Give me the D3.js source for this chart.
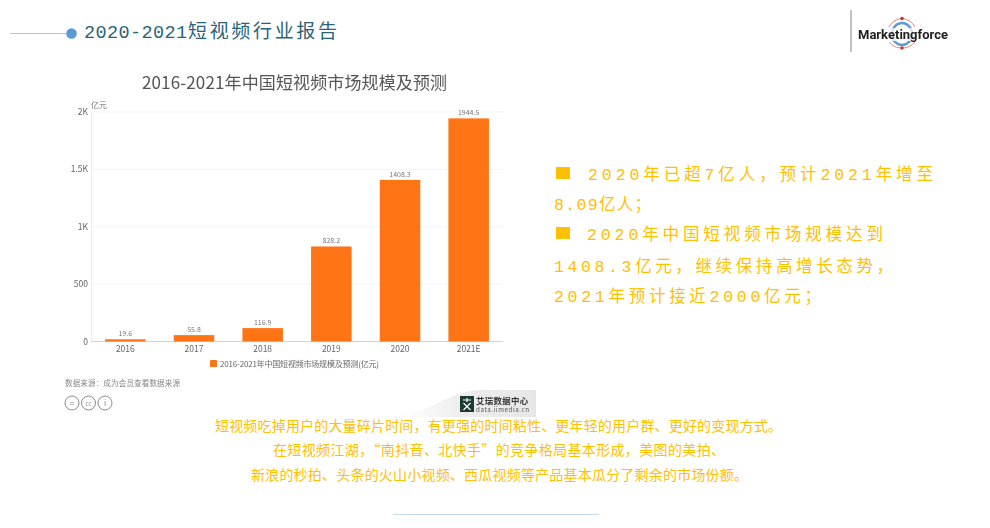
<!DOCTYPE html>
<html><head><meta charset="utf-8">
<script src="https://cdn.jsdelivr.net/npm/d3@7/dist/d3.min.js"></script>
<style>html,body{margin:0;padding:0;background:#fff}svg{display:block}
text{font-family:"Noto Sans CJK SC","Noto Sans",sans-serif}
.mono{font-family:"Liberation Mono","Noto Sans CJK SC",monospace}</style>
</head><body><svg id="c" width="990" height="528"></svg>
<script>
const categories = ["2016","2017","2018","2019","2020","2021E"];
const values = [19.6,55.8,116.9,828.2,1408.3,1944.5];
const yTicks = [0,500,1000,1500,2000];
const yLabels = ["0","500","1K","1.5K","2K"];
const titleYears = "2020-2021";
const titleWords = "短视频行业报告";
const chartTitle = "2016-2021年中国短视频市场规模及预测";
const legendLabel = "2016-2021年中国短视频市场规模及预测(亿元)";
const sideLines = [
  {t:"2020年已超7亿人，预计2021年增至",y:180,x:588,w:345,mark:true},
  {t:"8.09亿人；",y:210,x:554,w:97},
  {t:"2020年中国短视频市场规模达到",y:240,x:587,w:296,mark:true},
  {t:"1408.3亿元，继续保持高增长态势，",y:272,x:554,w:339},
  {t:"2021年预计接近2000亿元；",y:302,x:554,w:267}
];
const bottomLines = [
  {t:"短视频吃掉用户的大量碎片时间，有更强的时间粘性、更年轻的用户群、更好的变现方式。",y:431,x:215,w:567},
  {t:"在短视频江湖，“南抖音、北快手”的竞争格局基本形成，美图的美拍、",y:455,x:273,w:452},
  {t:"新浪的秒拍、头条的火山小视频、西瓜视频等产品基本瓜分了剩余的市场份额。",y:480,x:251,w:497}
];
const svg = d3.select("#c");
const x = d3.scaleBand().domain(categories).range([91,503]).paddingInner(0.41).paddingOuter(0.205);
const y = d3.scaleLinear().domain([0,2000]).range([341.5,112]);

const defs = svg.append("defs");
defs.html('<filter id="soft" x="-5%" y="-5%" width="110%" height="110%"><feGaussianBlur stdDeviation="0.35"/></filter>'+
 '<linearGradient id="wm" x1="0" x2="1" y1="0" y2="0"><stop offset="0" stop-color="#f4f4f4" stop-opacity="0"/><stop offset="0.45" stop-color="#eeeeee"/><stop offset="1" stop-color="#e6e6e6"/></linearGradient>');

// header
svg.append("line").attr("x1",10).attr("x2",68).attr("y1",33.5).attr("y2",33.5).attr("stroke","#a9c8ea").attr("stroke-width",1.2);
svg.append("circle").attr("cx",71.5).attr("cy",33.5).attr("r",5.3).attr("fill","#5b9bd5");
const head = svg.append("g").attr("fill","#2a6478");
head.append("text").attr("class","mono").attr("x",84).attr("y",38).attr("font-size",18.5).attr("textLength",103).text(titleYears);
head.append("text").attr("x",188).attr("y",38).attr("font-size",19).attr("textLength",149).text(titleWords);

// logo
const logo = svg.append("g").attr("filter","url(#soft)");
logo.append("line").attr("x1",851).attr("x2",851).attr("y1",10).attr("y2",52).attr("stroke","#a8a8a8").attr("stroke-width",1.4);
logo.append("ellipse").attr("cx",902).attr("cy",34).attr("rx",10).attr("ry",11).attr("fill","none").attr("stroke","#5b9bd5").attr("stroke-width",2.5);
logo.append("path").attr("d","M889 27A17 17 0 0 1 901 18.5M903 18.5A17 17 0 0 1 915 27M889 42A17 17 0 0 0 901 48M903 48A17 17 0 0 0 915 42").attr("fill","none").attr("stroke","#d9695c").attr("stroke-width",0.8);
logo.append("circle").attr("cx",902).attr("cy",18.5).attr("r",1.8).attr("fill","#c9372c");
logo.append("circle").attr("cx",902).attr("cy",48).attr("r",1.8).attr("fill","#c9372c");
logo.append("rect").attr("x",858).attr("y",28).attr("width",90).attr("height",13).attr("fill","#fff").attr("opacity",0.75);
logo.append("text").attr("x",858).attr("y",39).attr("font-size",13).attr("font-weight",700).attr("fill","#222").style("font-family","Roboto").attr("textLength",90).text("Marketingforce");

// chart
const chart = svg.append("g").attr("filter","url(#soft)");
chart.append("text").attr("x",142).attr("y",89).attr("font-size",17).attr("textLength",305).attr("fill","#555").text(chartTitle);

chart.append("g").selectAll("line").data(yTicks.slice(1)).join("line")
  .attr("x1",91).attr("x2",503).attr("y1",d=>y(d)).attr("y2",d=>y(d)).attr("stroke","#f5f5f5");
chart.append("line").attr("x1",91.5).attr("x2",91.5).attr("y1",112).attr("y2",341.5).attr("stroke","#ececec");
chart.append("line").attr("x1",91).attr("x2",503).attr("y1",341.5).attr("y2",341.5).attr("stroke","#cfd3da");

chart.append("g").selectAll("text").data(yTicks).join("text")
  .attr("x",88).attr("y",d=>y(d)+3).attr("text-anchor","end").attr("font-size",8.5).attr("fill","#666")
  .text((d,i)=>yLabels[i]);
chart.append("text").attr("x",91).attr("y",108).attr("font-size",8).attr("fill","#777").text("亿元");

chart.append("g").selectAll("rect").data(values).join("rect")
  .attr("x",(d,i)=>x(categories[i])).attr("width",x.bandwidth())
  .attr("y",d=>y(d)).attr("height",d=>y(0)-y(d)).attr("fill","#ff7519");
chart.append("g").selectAll("text").data(values).join("text")
  .attr("x",(d,i)=>x(categories[i])+x.bandwidth()/2).attr("y",d=>y(d)-3)
  .attr("text-anchor","middle").attr("font-size",7).attr("fill","#777").text(d=>d);
chart.append("g").selectAll("text").data(categories).join("text")
  .attr("x",d=>x(d)+x.bandwidth()/2).attr("y",352).attr("text-anchor","middle")
  .attr("font-size",8.5).attr("fill","#666").text(d=>d);

chart.append("rect").attr("x",210).attr("y",360).attr("width",7).attr("height",7).attr("rx",1).attr("fill","#ff7519");
chart.append("text").attr("x",220).attr("y",367).attr("font-size",8).attr("textLength",159).attr("fill","#666").text(legendLabel);
chart.append("text").attr("x",65).attr("y",386).attr("font-size",7.6).attr("textLength",115).attr("fill","#888").text("数据来源：成为会员查看数据来源");

// licence icons
[72,88.5,105].forEach((cx,i)=>{
  chart.append("circle").attr("cx",cx).attr("cy",403).attr("r",7).attr("fill","#fff").attr("stroke","#8a8a8a").attr("stroke-width",1);
  chart.append("text").attr("x",cx).attr("y",405.5).attr("text-anchor","middle").attr("font-size",i===1?6:8).attr("fill","#888").text(["=","cc","i"][i]);
});

// watermark
chart.append("path").attr("d","M392 417C430 414 445 392 480 390L536 390L536 417Z").attr("fill","url(#wm)");
chart.append("rect").attr("x",460).attr("y",396).attr("width",14).attr("height",16).attr("fill","#1d3a36");
chart.append("path").attr("d","M463 400L471 400M467 398L467 402M463.5 403L470.5 410M470.5 403L463.5 410").attr("stroke","#fff").attr("stroke-width",1.2).attr("fill","none");
chart.append("text").attr("x",476).attr("y",403.5).attr("font-size",8.4).attr("font-weight",700).attr("fill","#333").attr("textLength",52).text("艾瑞数据中心");
chart.append("text").attr("x",476).attr("y",412).attr("font-size",6.2).attr("textLength",53).attr("fill","#555").text("data.iimedia.cn");

// side text
const marks = sideLines.filter(d=>d.mark);
svg.append("g").selectAll("rect").data(marks).join("rect")
  .attr("x",556).attr("y",d=>d.y-13).attr("width",14).attr("height",12).attr("fill","#ffc000");
svg.append("g").selectAll("text").data(sideLines).join("text").attr("class","mono")
  .attr("x",d=>d.x).attr("y",d=>d.y).attr("font-size",16.5).attr("textLength",d=>d.w)
  .attr("fill","#ffc000").text(d=>d.t);

// bottom text
svg.append("g").selectAll("text").data(bottomLines).join("text")
  .attr("x",d=>d.x).attr("y",d=>d.y).attr("font-size",14).attr("textLength",d=>d.w)
  .attr("fill","#ffc000").text(d=>d.t);

svg.append("line").attr("x1",393).attr("x2",599).attr("y1",514.5).attr("y2",514.5).attr("stroke","#c5d9ee").attr("stroke-width",1.2);
</script></body></html>
